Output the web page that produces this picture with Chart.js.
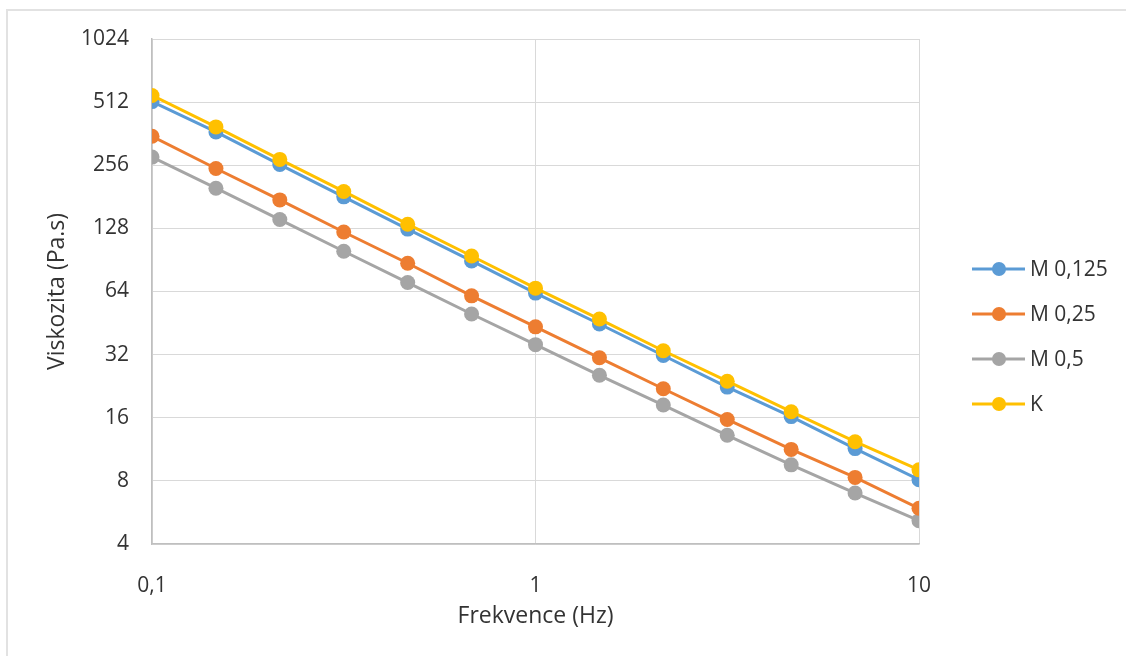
<!DOCTYPE html>
<html>
<head>
<meta charset="utf-8">
<script src="https://cdn.jsdelivr.net/npm/chart.js@4.4.1/dist/chart.umd.min.js"></script>
<style>
  body { margin: 0; background: #fff; }
  #wrap { position: relative; width: 1126px; height: 656px; overflow: hidden; }
  #frame { position: absolute; left: 6px; top: 9px; right: -10px; bottom: -10px;
           border-top: 2px solid #e2e2e2; border-left: 2px solid #e2e2e2; }
  canvas { position: absolute; left: 0; top: 0; }
</style>
</head>
<body>
<div id="wrap">
  <div id="frame"></div>
  <canvas id="chart" width="1126" height="656"></canvas>
</div>
<script>
// frequencies (Hz)
const freq = [0.1, 0.1468, 0.2154, 0.3162, 0.4642, 0.6813, 1, 1.468, 2.154, 3.162, 4.642, 6.813, 10];

// viscosity (Pa.s) per sample
const m0125 = [515, 369, 258, 181, 127, 89.5, 62.9, 44.8, 31.7, 22.4, 16.2, 11.4, 8.1];
const m025 = [352, 247, 175, 123, 87.3, 61, 43.4, 30.9, 22, 15.7, 11.3, 8.31, 5.92];
const m05 = [280, 199, 141, 99.6, 70.6, 50, 35.7, 25.5, 18.4, 13.2, 9.54, 7.0, 5.17];
const kSeries = [551, 390, 273, 192, 134, 94.5, 66.4, 47.3, 33.4, 23.9, 17.1, 12.3, 9.03];

const seriesNames = ['M 0,125', 'M 0,25', 'M 0,5', 'K'];
const xTicks = [0.1, 1, 10];
const yTicks = [4, 8, 16, 32, 64, 128, 256, 512, 1024];

const colors = ['#5B9BD5', '#ED7D31', '#A5A5A5', '#FFC000'];
const FONT = '"Open Sans", "Noto Sans", sans-serif';
const TEXT = '#333333';

function pts(vals) {
    return vals.map((v, i) => ({ x: freq[i], y: v }));
}

function makeSet(i, vals, order) {
    return {
        label: seriesNames[i],
        data: pts(vals),
        borderColor: colors[i],
        backgroundColor: colors[i],
        pointBackgroundColor: colors[i],
        pointBorderWidth: 0,
        pointRadius: 7.5,
        borderWidth: 3,
        tension: 0,
        order: order
    };
}

// legend: line + dot, like the spreadsheet one
const sideLegend = {
    id: 'sideLegend',
    afterDraw(chart) {
        const ctx = chart.ctx;
        const area = chart.chartArea;
        const x0 = area.right + 53;
        const y0 = 269;
        ctx.save();
        ctx.font = '21px ' + FONT;
        ctx.textBaseline = 'middle';
        chart.data.datasets.forEach((ds, i) => {
            const y = y0 + i * 45;
            ctx.strokeStyle = ds.borderColor;
            ctx.lineWidth = 3;
            ctx.beginPath();
            ctx.moveTo(x0, y);
            ctx.lineTo(x0 + 53, y);
            ctx.stroke();
            ctx.fillStyle = ds.borderColor;
            ctx.beginPath();
            ctx.arc(x0 + 27, y, 7, 0, Math.PI * 2);
            ctx.fill();
            ctx.fillStyle = TEXT;
            ctx.fillText(ds.label, x0 + 58, y + 1);
        });
        ctx.restore();
    }
};

new Chart(document.getElementById('chart'), {
    type: 'line',
    data: {
        datasets: [
            makeSet(0, m0125, 1),
            makeSet(1, m025, 2),
            makeSet(2, m05, 3),
            makeSet(3, kSeries, 0)
        ]
    },
    options: {
        responsive: false,
        animation: false,
        events: [],
        layout: { autoPadding: false, padding: { left: 0, right: 207, top: 39, bottom: 0 } },
        scales: {
            x: {
                type: 'logarithmic',
                min: 0.1,
                max: 10,
                afterBuildTicks: s => { s.ticks = xTicks.map(v => ({ value: v })); },
                afterFit: s => { s.height = 112; },
                grid: { color: '#d9d9d9', drawTicks: false },
                border: { color: '#bfbfbf', width: 1.5 },
                ticks: {
                    color: TEXT,
                    font: { family: FONT, size: 21 },
                    padding: 29,
                    maxRotation: 0,
                    callback: v => String(v).replace('.', ',')
                },
                title: {
                    display: true,
                    text: 'Frekvence (Hz)',
                    color: TEXT,
                    font: { family: FONT, size: 23 },
                    padding: { bottom: 26 }
                }
            },
            y: {
                type: 'logarithmic',
                min: 4,
                max: 1024,
                afterBuildTicks: s => { s.ticks = yTicks.map(v => ({ value: v })); },
                afterFit: s => { s.width = 152; },
                grid: { color: '#d9d9d9', drawTicks: false },
                border: { color: '#bfbfbf', width: 1.5 },
                ticks: {
                    color: TEXT,
                    font: { family: FONT, size: 21 },
                    padding: 23,
                    callback: v => String(v)
                },
                title: {
                    display: true,
                    text: 'Viskozita (Pa.s)',
                    color: TEXT,
                    font: { family: FONT, size: 23 },
                    padding: { top: 44 }
                }
            }
        },
        plugins: {
            legend: { display: false },
            tooltip: { enabled: false }
        }
    },
    plugins: [sideLegend]
});
</script>
</body>
</html>
